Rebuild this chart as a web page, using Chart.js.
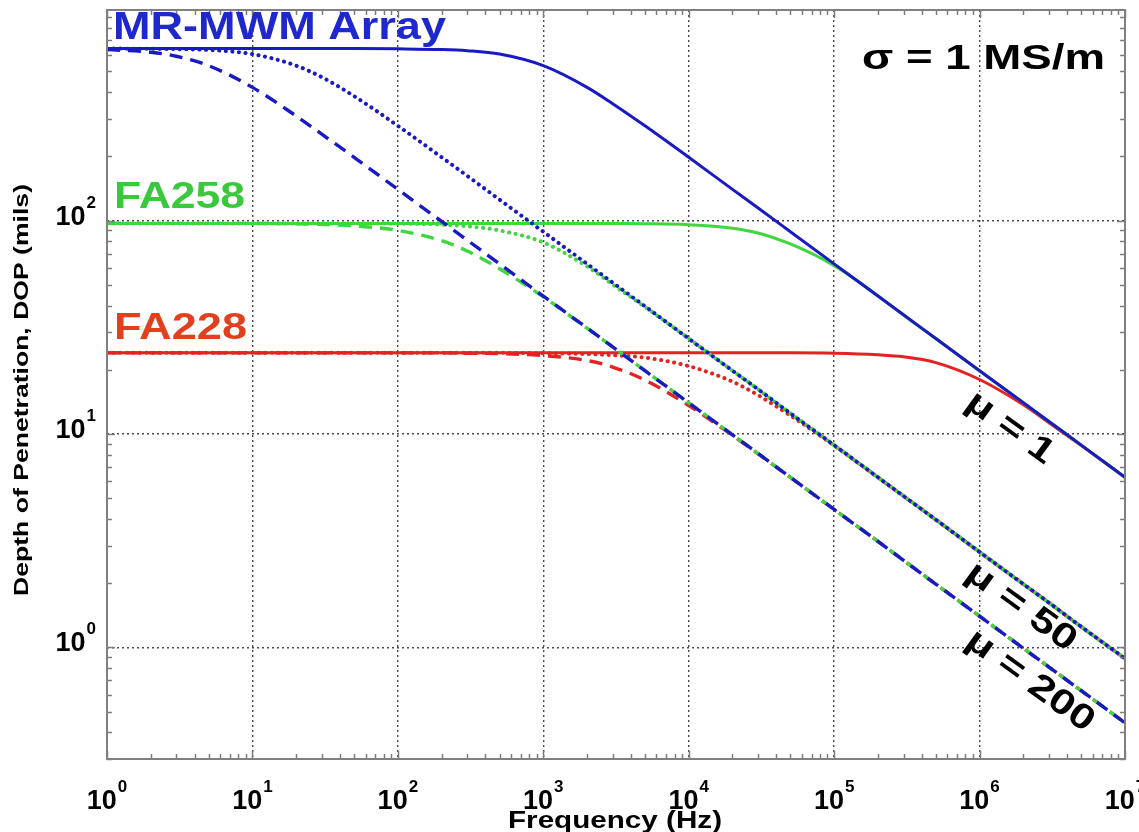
<!DOCTYPE html>
<html>
<head>
<meta charset="utf-8">
<title>Depth of Penetration vs Frequency</title>
<script src="https://cdn.jsdelivr.net/npm/chart.js@4.4.1/dist/chart.umd.min.js"></script>
<style>
  html, body { margin: 0; padding: 0; background: #fff; }
  #wrap { position: relative; width: 1139px; height: 832px; }
</style>
</head>
<body>
<div id="wrap"><canvas id="dopChart" width="1139" height="832"></canvas></div>
<script>
// frequency points (Hz)
const freqHz = [1, 2, 3, 5, 10, 20, 30, 50, 100, 200, 300, 500, 1e3, 2e3, 3e3, 5e3,
    1e4, 2e4, 3e4, 5e4, 1e5, 2e5, 3e5, 5e5, 1e6, 2e6, 3e6, 5e6, 1e7];

// depth of penetration (mils)
const mrMu1 = [640, 640, 640, 640, 640, 640, 640, 640, 638, 633, 625, 603, 532, 421, 353, 278,
    198, 140, 114.5, 88.7, 62.7, 44.3, 36.2, 28.0, 19.8, 14.0, 11.45, 8.87, 6.27];
const mrMu50 = [640, 638, 636, 630, 603, 532, 470, 383, 278, 198, 162, 125.4, 88.7, 62.7, 51.2, 39.7,
    28.0, 19.8, 16.2, 12.5, 8.87, 6.27, 5.12, 3.97, 2.80, 1.98, 1.62, 1.25, 0.887];
const mrMu200 = [633, 615, 589, 532, 421, 309, 254, 198, 140, 99.1, 81.0, 62.7, 44.3, 31.4, 25.6, 19.8,
    14.0, 9.91, 8.10, 6.27, 4.43, 3.14, 2.56, 1.98, 1.40, 0.991, 0.809, 0.627, 0.443];

const fa258Mu1 = [97, 97, 97, 97, 97, 97, 97, 97, 97, 97, 97, 97, 97, 97, 96.9, 96.7,
    95.7, 92.1, 87.4, 77.7, 61.5, 44.5, 36.0, 28.0, 19.8, 14.0, 11.45, 8.87, 6.27];
const fa258Mu50 = [97, 97, 97, 97, 97, 97, 97, 96.9, 96.7, 95.7, 94.1, 89.9, 79.0, 61.0, 50.2, 39.4,
    28.0, 19.8, 16.2, 12.5, 8.87, 6.27, 5.12, 3.97, 2.80, 1.98, 1.62, 1.25, 0.887];
const fa258Mu200 = [97, 97, 97, 97, 97, 96.6, 96.0, 94.5, 90.0, 80.5, 72.0, 59.5, 43.9, 31.3, 25.6, 19.8,
    14.0, 9.91, 8.10, 6.27, 4.43, 3.14, 2.56, 1.98, 1.40, 0.991, 0.809, 0.627, 0.443];

const fa228Mu1 = [24, 24, 24, 24, 24, 24, 24, 24, 24, 24, 24, 24, 24, 24, 24, 24,
    24, 24, 24, 24, 23.9, 23.5, 23.0, 21.6, 18.0, 13.7, 11.3, 8.83, 6.26];
const fa228Mu50 = [24, 24, 24, 24, 24, 24, 24, 24, 24, 24, 24, 24, 23.9, 23.7, 23.4, 22.8,
    20.8, 17.6, 15.2, 12.2, 8.83, 6.26, 5.12, 3.97, 2.80, 1.98, 1.62, 1.25, 0.887];
const fa228Mu200 = [24, 24, 24, 24, 24, 24, 24, 24, 24, 24.0, 23.9, 23.8, 23.3, 22.1, 20.6, 17.9,
    13.6, 9.84, 8.07, 6.26, 4.43, 3.14, 2.56, 1.98, 1.40, 0.991, 0.809, 0.627, 0.443];

// axis ticks
const xDecades = [1, 10, 100, 1e3, 1e4, 1e5, 1e6, 1e7];
const yDecades = [1, 10, 100];

const BLUE = '#1a1ac4';
const GREEN = '#3fd63f';
const RED = '#e52222';
const FONT = 'Arial, "Liberation Sans", sans-serif';

const DASH = { solid: [], dashed: [13, 8], dotted: [0.1, 6.5] };

function toPoints(ys) {
    return freqHz.map((f, i) => ({ x: f, y: ys[i] }));
}

function lineSet(label, ys, color, style) {
    return {
        label: label,
        data: toPoints(ys),
        borderColor: color,
        backgroundColor: color,
        borderWidth: style === 'solid' ? 3 : (style === 'dotted' ? 4 : 3.4),
        borderDash: DASH[style],
        borderCapStyle: style === 'dotted' ? 'round' : 'butt',
        pointRadius: 0,
        cubicInterpolationMode: 'monotone',
        fill: false
    };
}

// first dataset is drawn on top
const datasets = [
    lineSet('MR-MWM Array, μ = 1', mrMu1, BLUE, 'solid'),
    lineSet('MR-MWM Array, μ = 50', mrMu50, BLUE, 'dotted'),
    lineSet('MR-MWM Array, μ = 200', mrMu200, BLUE, 'dashed'),
    lineSet('FA258, μ = 1', fa258Mu1, GREEN, 'solid'),
    lineSet('FA258, μ = 50', fa258Mu50, GREEN, 'dotted'),
    lineSet('FA258, μ = 200', fa258Mu200, GREEN, 'dashed'),
    lineSet('FA228, μ = 1', fa228Mu1, RED, 'solid'),
    lineSet('FA228, μ = 50', fa228Mu50, RED, 'dotted'),
    lineSet('FA228, μ = 200', fa228Mu200, RED, 'dashed')
];

// text in the figure: position, size and target width
const labels = [
    { text: 'MR-MWM Array', x: 113, y: 39, size: 39, width: 333, color: '#1e28cc' },
    { text: 'σ = 1 MS/m', x: 862, y: 69, size: 35, width: 243, color: '#000' },
    { text: 'FA258', x: 114, y: 208, size: 37, width: 131, color: '#3cc83c' },
    { text: 'FA228', x: 114, y: 339, size: 37, width: 133, color: '#e2401c' },
    { text: 'μ = 1', x: 1010, y: 428, size: 35, width: 100, angle: 36, align: 'center', baseline: 'middle' },
    { text: 'μ = 50', x: 1021, y: 607, size: 35, width: 128, angle: 36, align: 'center', baseline: 'middle' },
    { text: 'μ = 200', x: 1030, y: 681, size: 35, width: 150, angle: 36, align: 'center', baseline: 'middle' },
    { text: 'Frequency (Hz)', x: 615, y: 828, size: 23, width: 214, align: 'center' },
    { text: 'Depth of Penetration, DOP (mils)', x: 22, y: 390, size: 21, width: 412, angle: -90, align: 'center', baseline: 'middle' }
];

function drawText(ctx, t) {
    ctx.save();
    ctx.font = `bold ${t.size}px ${FONT}`;
    const w = ctx.measureText(t.text).width;
    const sx = t.width ? t.width / w : 1;
    ctx.translate(t.x, t.y);
    if (t.angle) ctx.rotate(t.angle * Math.PI / 180);
    ctx.scale(sx, 1);
    ctx.fillStyle = t.color || '#000';
    ctx.textAlign = t.align || 'left';
    ctx.textBaseline = t.baseline || 'alphabetic';
    ctx.fillText(t.text, 0, 0);
    ctx.restore();
}

// "10" with a superscript exponent
function drawPower(ctx, exp, x, baseY, align) {
    ctx.save();
    ctx.fillStyle = '#000';
    ctx.textAlign = 'left';
    ctx.textBaseline = 'alphabetic';
    ctx.font = `bold 27px ${FONT}`;
    const w1 = ctx.measureText('10').width;
    ctx.font = `bold 17px ${FONT}`;
    const w2 = ctx.measureText(String(exp)).width;
    const total = w1 + 1 + w2;
    const left = align === 'right' ? x - total : x - total / 2;
    ctx.font = `bold 27px ${FONT}`;
    ctx.fillText('10', left, baseY);
    ctx.font = `bold 17px ${FONT}`;
    ctx.fillText(String(exp), left + w1 + 1, baseY - 17);
    ctx.restore();
}

const framePlugin = {
    id: 'frame',
    afterDraw(chart) {
        const { ctx, chartArea: a, scales: { x, y } } = chart;
        ctx.save();

        // inward minor/major ticks on all four sides
        ctx.strokeStyle = '#7c7c7c';
        ctx.lineWidth = 1.5;
        ctx.beginPath();
        for (let d = 0; d <= 7; d++) {
            for (let k = 1; k <= 9; k++) {
                const v = k * Math.pow(10, d);
                if (v > x.max) break;
                const px = Math.round(x.getPixelForValue(v)) + 0.5;
                const len = k === 1 ? 8 : 5;
                ctx.moveTo(px, a.bottom); ctx.lineTo(px, a.bottom - len);
                ctx.moveTo(px, a.top); ctx.lineTo(px, a.top + len);
            }
        }
        for (let d = -1; d <= 2; d++) {
            for (let k = 1; k <= 9; k++) {
                const v = k * Math.pow(10, d);
                if (v < y.min || v > y.max) continue;
                const py = Math.round(y.getPixelForValue(v)) + 0.5;
                const len = k === 1 ? 8 : 5;
                ctx.moveTo(a.left, py); ctx.lineTo(a.left + len, py);
                ctx.moveTo(a.right, py); ctx.lineTo(a.right - len, py);
            }
        }
        ctx.stroke();

        // axes box
        ctx.strokeStyle = '#808080';
        ctx.lineWidth = 2;
        ctx.strokeRect(a.left, a.top, a.right - a.left, a.bottom - a.top);

        // tick labels
        xDecades.forEach(v => {
            drawPower(ctx, Math.round(Math.log10(v)), x.getPixelForValue(v), 809, 'center');
        });
        yDecades.forEach(v => {
            const py = y.getPixelForValue(v);
            drawPower(ctx, Math.round(Math.log10(v)), 96, py + 4, 'right');
        });

        labels.forEach(t => drawText(ctx, t));
        ctx.restore();
    }
};

const canvas = document.getElementById('dopChart');
new Chart(canvas.getContext('2d'), {
    type: 'line',
    data: { datasets: datasets },
    options: {
        responsive: false,
        devicePixelRatio: 1,
        animation: false,
        layout: { padding: { left: 107, right: 14, top: 10, bottom: 73 } },
        plugins: {
            legend: { display: false },
            tooltip: { enabled: false }
        },
        scales: {
            x: {
                type: 'logarithmic',
                min: 1,
                max: 1e7,
                afterBuildTicks: s => { s.ticks = xDecades.map(v => ({ value: v })); },
                ticks: { display: false },
                grid: { color: '#4a4a4a', lineWidth: 1.4, drawTicks: false },
                border: { display: false, dash: [2, 3] }
            },
            y: {
                type: 'logarithmic',
                min: 0.3,
                max: 970,
                afterBuildTicks: s => { s.ticks = yDecades.map(v => ({ value: v })); },
                ticks: { display: false },
                grid: { color: '#4a4a4a', lineWidth: 1.4, drawTicks: false },
                border: { display: false, dash: [2, 3] }
            }
        }
    },
    plugins: [framePlugin]
});
</script>
</body>
</html>
